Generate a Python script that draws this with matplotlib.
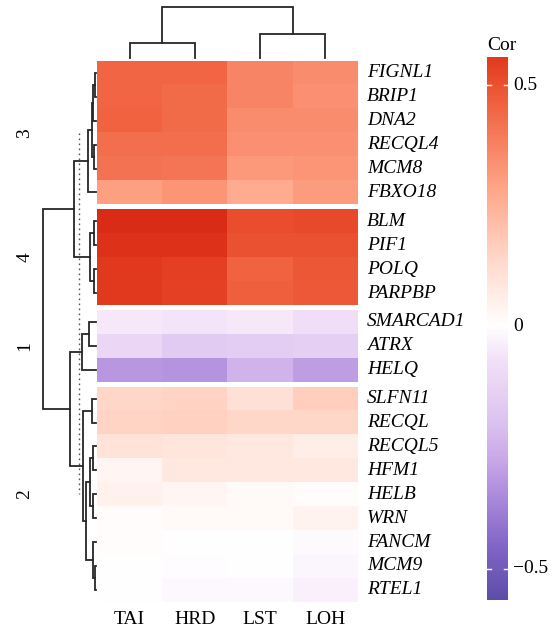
import numpy as np
import matplotlib
matplotlib.use("Agg")
import matplotlib.pyplot as plt
from matplotlib.colors import LinearSegmentedColormap, to_rgb

plt.rcParams['font.family'] = ['Liberation Serif', 'DejaVu Serif']

# ---------------- data ----------------
columns = ["TAI", "HRD", "LST", "LOH"]
cluster_order = ["3", "4", "1", "2"]
clusters = {
    "3": ["FIGNL1", "BRIP1", "DNA2", "RECQL4", "MCM8", "FBXO18"],
    "4": ["BLM", "PIF1", "POLQ", "PARPBP"],
    "1": ["SMARCAD1", "ATRX", "HELQ"],
    "2": ["SLFN11", "RECQL", "RECQL5", "HFM1", "HELB", "WRN", "FANCM", "MCM9", "RTEL1"],
}
values = {
    "FIGNL1":   [0.45, 0.45, 0.37, 0.35],
    "BRIP1":    [0.45, 0.44, 0.37, 0.34],
    "DNA2":     [0.46, 0.44, 0.35, 0.35],
    "RECQL4":   [0.43, 0.43, 0.34, 0.34],
    "MCM8":     [0.42, 0.41, 0.32, 0.33],
    "FBXO18":   [0.30, 0.33, 0.27, 0.31],
    "BLM":      [0.59, 0.59, 0.51, 0.52],
    "PIF1":     [0.575, 0.575, 0.50, 0.50],
    "POLQ":     [0.555, 0.545, 0.46, 0.49],
    "PARPBP":   [0.555, 0.54, 0.47, 0.485],
    "SMARCAD1": [-0.05, -0.06, -0.05, -0.08],
    "ATRX":     [-0.11, -0.16, -0.15, -0.14],
    "HELQ":     [-0.32, -0.33, -0.24, -0.30],
    "SLFN11":   [0.14, 0.15, 0.11, 0.17],
    "RECQL":    [0.15, 0.16, 0.14, 0.14],
    "RECQL5":   [0.10, 0.09, 0.08, 0.06],
    "HFM1":     [0.03, 0.08, 0.08, 0.08],
    "HELB":     [0.05, 0.03, 0.02, 0.01],
    "WRN":      [0.01, 0.02, 0.02, 0.04],
    "FANCM":    [0.01, 0.0, 0.0, -0.01],
    "MCM9":     [0.0, -0.005, 0.0, -0.02],
    "RTEL1":    [0.0, -0.015, -0.015, -0.03],
}
# row dendrogram merges: (left, right, height); ints refer to earlier merges
row_merges = [
    ("FIGNL1", "BRIP1", 1), (0, "DNA2", 3), ("RECQL4", "MCM8", 2), (1, 2, 4),
    (3, "FBXO18", 8),
    ("BLM", "PIF1", 2), ("POLQ", "PARPBP", 2), (5, 6, 6), (4, 7, 22),
    ("SMARCAD1", "ATRX", 7), (9, "HELQ", 14),
    ("SLFN11", "RECQL", 4), ("RECQL5", "HFM1", 3), ("HELB", "WRN", 3), (12, 13, 6),
    ("MCM9", "RTEL1", 0.8), ("FANCM", 15, 3), (14, 16, 10), (11, 17, 13.5),
    (10, 18, 27), (8, 19, 54),
]
row_cut = 17
col_merges = [("TAI", "HRD", 15), ("LST", "LOH", 24), (0, 1, 51)]
cbar_ticks = [0.5, 0, -0.5]

# colour map stops
cmap_stops = [(-0.568, "#5E4EA8"), (-0.465, "#7F63C5"), (-0.361, "#A888DA"),
              (-0.278, "#C9A7E8"), (-0.195, "#DCC4F0"), (-0.07, "#F3E0F8"),
              (0.0, "#FFFFFF"), (0.137, "#FFD9CC"), (0.282, "#FFA88A"),
              (0.469, "#F0603E"), (0.558, "#E23A1E"), (0.60, "#D82716")]
vmin, vmax = cmap_stops[0][0], cmap_stops[-1][0]
cmap = LinearSegmentedColormap.from_list(
    "cor", [((v - vmin) / (vmax - vmin), to_rgb(c)) for v, c in cmap_stops])

# ---------------- layout ----------------
W, H = 560, 631
fig = plt.figure(figsize=(W / 100, H / 100), dpi=100)

def px_axes(x0, y0, x1, y1):
    return fig.add_axes([x0 / W, 1 - y1 / H, (x1 - x0) / W, (y1 - y0) / H])

hm_x0, hm_x1 = 97, 358
top = 61
row_h = 23.9
gap = 5
FS = 14

leaf_pos = {}
cluster_span = {}
y = top
for ci, cl in enumerate(cluster_order):
    genes = clusters[cl]
    y0 = y
    y1 = y0 + row_h * len(genes)
    ax = px_axes(hm_x0, y0, hm_x1, y1)
    mat = np.array([values[g] for g in genes])
    ax.imshow(mat, cmap=cmap, vmin=vmin, vmax=vmax, aspect="auto",
              interpolation="nearest")
    ax.set_axis_off()
    for i, g in enumerate(genes):
        cy = y0 + row_h * (i + 0.5)
        leaf_pos[g] = cy
        fig.text(367 / W, 1 - cy / H, g, fontsize=FS, style="italic",
                 ha="left", va="center")
    cluster_span[cl] = (y0, y1)
    fig.text(25 / W, 1 - (y0 + y1) / 2 / H, cl, fontsize=FS, rotation=90,
             ha="center", va="center")
    y = y1 + gap
hm_bottom = y - gap

# column labels
col_w = (hm_x1 - hm_x0) / len(columns)
col_pos = {c: hm_x0 + col_w * (i + 0.5) for i, c in enumerate(columns)}
for c, cx in col_pos.items():
    fig.text(cx / W, 1 - 620 / H, c, fontsize=FS, ha="center", va="center")

# ---------------- dendrograms ----------------
LC = "#262626"
LW = 1.3

def draw_dendro(ax, merges, pos, horizontal):
    nodes = []
    def get(n):
        if isinstance(n, int):
            return nodes[n]
        return (pos[n], 0.0)
    for a, b, h in merges:
        pa, ha = get(a)
        pb, hb = get(b)
        if horizontal:
            ax.plot([ha, h, h, hb], [pa, pa, pb, pb], color=LC, lw=LW,
                    solid_joinstyle="miter", clip_on=False)
        else:
            ax.plot([pa, pa, pb, pb], [ha, h, h, hb], color=LC, lw=LW,
                    solid_joinstyle="miter", clip_on=False)
        nodes.append(((pa + pb) / 2, h))

# left (row) dendrogram: height 54 at x=43, 0 at x=96
axl = px_axes(43, top, 96, hm_bottom)
axl.set_xlim(54, 0)
axl.set_ylim(hm_bottom, top)
axl.set_axis_off()
draw_dendro(axl, row_merges, leaf_pos, horizontal=True)
c_first = sum(cluster_span[cluster_order[0]]) / 2
c_last = sum(cluster_span[cluster_order[-1]]) / 2
axl.plot([row_cut, row_cut], [c_first, c_last], color="#555555", lw=1.0,
         ls=(0, (1.2, 2.4)))

# top (column) dendrogram
axt = px_axes(hm_x0, 7, hm_x1, 58)
axt.set_xlim(hm_x0, hm_x1)
axt.set_ylim(0, 51)
axt.set_axis_off()
draw_dendro(axt, col_merges, col_pos, horizontal=False)

# ---------------- colour bar ----------------
cb_top_v, cb_bot_v = 0.558, -0.565
axc = px_axes(487, 57, 508, 600)
grad = np.linspace(cb_top_v, cb_bot_v, 400)[:, None]
axc.imshow(grad, cmap=cmap, vmin=vmin, vmax=vmax, aspect="auto",
           extent=[0, 1, cb_bot_v, cb_top_v], interpolation="bilinear")
axc.set_xlim(0, 1)
axc.set_ylim(cb_bot_v, cb_top_v)
axc.set_axis_off()
for t in cbar_ticks:
    axc.plot([0, 0.2], [t, t], color="white", lw=1)
    axc.plot([0.8, 1], [t, t], color="white", lw=1)
    lab = f"{t:g}".replace("-", "\u2212")
    axc.text(1.25, t, lab, fontsize=FS, ha="left", va="center",
             transform=axc.transData, clip_on=False)
fig.text(487 / W, 1 - 45 / H, "Cor", fontsize=FS, ha="left", va="center")

fig.savefig("out.png", dpi=100)
